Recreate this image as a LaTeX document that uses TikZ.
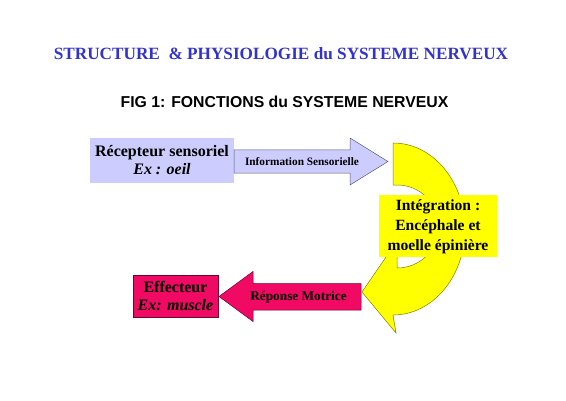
\documentclass[tikz,border=0pt]{standalone}
\usepackage{fontspec}
\setmainfont{Liberation Serif}
\newfontfamily\arialf{Liberation Sans}
\definecolor{titleblue}{RGB}{51,51,204}
\definecolor{lav}{RGB}{204,204,255}
\definecolor{lavline}{RGB}{90,90,120}
\definecolor{pinkfill}{RGB}{240,10,100}
\definecolor{pinkline}{RGB}{110,0,50}
\definecolor{yel}{RGB}{255,255,0}
\definecolor{yelline}{RGB}{128,128,0}
\tikzset{
  boxtxt/.style={inner sep=0pt, align=center, font=\bfseries},
  lavbox/.style={fill=lav, draw=none},
  pinkbox/.style={fill=pinkfill, draw=pinkline, line width=0.3pt},
  yelbox/.style={fill=yel, draw=none},
  lavarrow/.style={fill=lav, draw=lavline, line width=0.5pt, line join=miter},
  pinkarrow/.style={fill=pinkfill, draw=pinkline, line width=0.5pt, line join=miter},
  yelarrow/.style={fill=yel, draw=yelline, line width=0.5pt, line join=miter},
}
\begin{document}
\begin{tikzpicture}[x=1pt,y=1pt]
\useasboundingbox[fill=white] (0,0) rectangle (566,400);
% titles
\node[font=\fontsize{17.2}{20}\selectfont\bfseries, text=titleblue, inner sep=0pt] (t1) at (281,346) {STRUCTURE\ \ \& PHYSIOLOGIE du SYSTEME NERVEUX};
\node[font=\arialf\fontsize{15.8}{19}\selectfont\bfseries, inner sep=0pt] (t2) at (284.5,298) {FIG 1: FONCTIONS du SYSTEME NERVEUX};
% curved yellow arrow
\draw[yelarrow] (393,257) arc[start angle=90, end angle=-90, x radius=72, y radius=86]
  -- (396,67) -- (362,108) -- (397,159) -- (397,132)
  arc[start angle=-90, end angle=90, x radius=42, y radius=41.5]
  -- (393,215) -- cycle;
% boxes
\path[lavbox] (90,217) rectangle (234,262);
\node[boxtxt, font=\fontsize{16}{18}\selectfont\bfseries] (rec) at (162,239.5) {Récepteur sensoriel\\\textit{Ex : oeil}};
\path[yelbox] (379,143) rectangle (497,205);
\node[boxtxt, font=\fontsize{15.6}{20}\selectfont\bfseries] (integ) at (438,173.5) {Intégration :\\Encéphale et\\moelle épinière};
\path[pinkbox] (133,83) rectangle (218,125);
\node[boxtxt, font=\fontsize{16}{18}\selectfont\bfseries] (eff) at (175.5,104) {Effecteur\\\textit{Ex: muscle}};
% straight arrows
\draw[lavarrow] (234,250) -- (350,250) -- (350,262) -- (388,238.5) -- (350,215) -- (350,227) -- (234,227) -- cycle;
\node[boxtxt, font=\fontsize{11.3}{13}\selectfont\bfseries] (info) at (302,238.5) {Information Sensorielle};
\draw[pinkarrow] (361,116.5) -- (253,116.5) -- (253,128.5) -- (219,103.5) -- (253,78.5) -- (253,90) -- (361,90) -- cycle;
\node[boxtxt, font=\fontsize{13.3}{15}\selectfont\bfseries] (rep) at (298.5,102.5) {Réponse Motrice};
\end{tikzpicture}
\end{document}
